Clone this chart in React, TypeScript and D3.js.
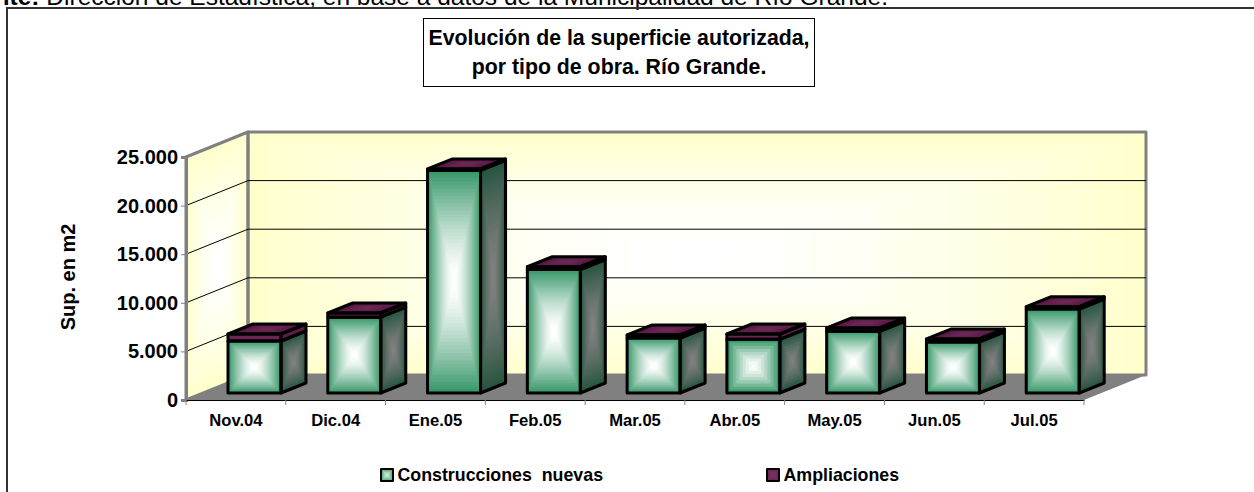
import { useRef, useEffect } from "react";
import * as d3 from "d3";

// values
const categories = ["Nov.04", "Dic.04", "Ene.05", "Feb.05", "Mar.05", "Abr.05", "May.05", "Jun.05", "Jul.05"];
const construcciones = [5350, 7800, 22900, 12700, 5650, 5520, 6350, 5250, 8640];
const ampliaciones = [720, 430, 150, 290, 320, 550, 340, 310, 240];
const yTicks = [0, 5000, 10000, 15000, 20000, 25000];
const legendLabels = ["Construcciones  nuevas", "Ampliaciones"];
const titleLines = ["Evolución de la superficie autorizada,", "por tipo de obra. Río Grande."];
const sourceBold = "Fuente:";
const sourceText = " Dirección de Estadística, en base a datos de la Municipalidad de Río Grande.";

const FONT = "'Liberation Sans', Arial, sans-serif";
const width = 1254;
const height = 492;

// 3d box: front plane of the plot and how far the back wall is shifted
const plot = { left: 186, right: 1084, bottom: 400, top: 157 };
const wallDx = 62;
const wallDy = -25;
// bars stand a bit inside the floor
const barShiftY = -7;
const barLeft = 42;
const barWidth = 53;
const barDx = 25;
const barDy = -10;

type Pt = [number, number];

// fake of Excel's "from center" gradient: quads shrinking to the centre,
// eased so the slope dies out in the middle and no X pattern shows
function nestedQuad(g: any, pts: Pt[], edge: string, center: string, steps: number) {
  const cx = d3.mean(pts, (p) => p[0]) as number;
  const cy = d3.mean(pts, (p) => p[1]) as number;
  const color = d3.interpolateRgb(edge, center);
  const line = d3.line();
  d3.range(steps).forEach((i) => {
    const u = i / (steps - 1);
    const t = u * 0.95;
    const q = pts.map((p) => [p[0] + (cx - p[0]) * t, p[1] + (cy - p[1]) * t] as Pt);
    g.append("path")
      .attr("d", line(q) + "Z")
      .attr("fill", color(1 - Math.pow(1 - u, 1.4)));
  });
}

function outline(g: any, pts: Pt[], stroke: string, w: number) {
  g.append("path")
    .attr("d", d3.line()(pts) + "Z")
    .attr("fill", "none")
    .attr("stroke", stroke)
    .attr("stroke-width", w)
    .attr("stroke-linejoin", "round");
}

const App = () => {
  const svgRef = useRef<SVGSVGElement>(null);

  useEffect(() => {
    const svg = d3.select(svgRef.current);
    svg.selectAll("*").remove();

    const x = d3.scaleBand().domain(categories).range([plot.left, plot.right]).padding(0);
    const y = d3.scaleLinear().domain([0, 25000]).range([plot.bottom, plot.top]);
    const fmt = d3.formatLocale({ decimal: ",", thousands: ".", grouping: [3], currency: ["", ""] }).format(",");

    // source line cut by the top of the page
    const src = svg.append("text")
      .attr("x", 888).attr("y", 5)
      .attr("text-anchor", "end")
      .style("font", `24.5px ${FONT}`)
      .style("white-space", "pre");
    src.append("tspan").style("font-weight", "bold").text(sourceBold);
    src.append("tspan").text(sourceText);

    // outer frame, open at the bottom and right
    svg.append("path")
      .attr("d", `M7,${height}V8H${width}`)
      .attr("fill", "none")
      .attr("stroke", "#333")
      .attr("stroke-width", 2);

    // walls
    const walls = svg.append("g");
    const [x0, x1] = [plot.left, plot.right];
    const [yb, yt] = [plot.bottom, plot.top];
    const back: Pt[] = [[x0 + wallDx, yt + wallDy], [x1 + wallDx, yt + wallDy], [x1 + wallDx, yb + wallDy], [x0 + wallDx, yb + wallDy]];
    const side: Pt[] = [[x0, yt], [x0 + wallDx, yt + wallDy], [x0 + wallDx, yb + wallDy], [x0, yb]];
    nestedQuad(walls, back, "#FFFFCC", "#FFFFFF", 40);
    nestedQuad(walls, side, "#FFFFCC", "#FFFFFF", 20);

    // floor
    walls.append("path")
      .attr("d", d3.line()([[x0, yb], [x0 + wallDx, yb + wallDy], [x1 + wallDx, yb + wallDy], [x1, yb]]) + "Z")
      .attr("fill", "#808080");

    // gridlines
    const grid = svg.append("g").attr("fill", "none").attr("stroke", "#000").attr("stroke-width", 1);
    yTicks.filter((v) => v > 0 && v < 25000).forEach((v) => {
      grid.append("path").attr(
        "d",
        d3.line()([[x0, y(v)], [x0 + wallDx, y(v) + wallDy], [x1 + wallDx, y(v) + wallDy]]) as string,
      );
    });

    outline(walls, back, "#808080", 3);
    outline(walls, side, "#808080", 3);
    walls.raise();
    grid.raise();

    // bars
    const bars = svg.append("g");
    categories.forEach((c, i) => {
      const left = (x(c) as number) + barLeft;
      const right = left + barWidth;
      const base = y(0) + barShiftY;
      const h = y(0) - y(construcciones[i]);
      const hTotal = y(0) - y(construcciones[i] + ampliaciones[i]);
      const yGreen = base - h;
      const yTop = base - hTotal;
      // Abr.05 shows visible bands in the picture
      const steps = c === "Abr.05" ? 9 : 30;

      const front: Pt[] = [[left, yGreen], [right, yGreen], [right, base], [left, base]];
      const sideFace: Pt[] = [[right, yGreen], [right + barDx, yGreen + barDy], [right + barDx, base + barDy], [right, base]];
      nestedQuad(bars, front, "#38986A", "#FFFFFF", steps);
      nestedQuad(bars, sideFace, "#285540", "#808080", steps);

      const ampFront: Pt[] = [[left, yTop], [right, yTop], [right, yGreen], [left, yGreen]];
      const ampSide: Pt[] = [[right, yTop], [right + barDx, yTop + barDy], [right + barDx, yGreen + barDy], [right, yGreen]];
      const ampTop: Pt[] = [[left, yTop], [left + barDx, yTop + barDy], [right + barDx, yTop + barDy], [right, yTop]];
      bars.append("path").attr("d", d3.line()(ampFront) + "Z").attr("fill", "#6B2455");
      bars.append("path").attr("d", d3.line()(ampSide) + "Z").attr("fill", "#5A1D48");
      nestedQuad(bars, ampTop, "#54163F", "#6F2A58", 6);

      [front, sideFace, ampFront, ampSide, ampTop].forEach((q) => outline(bars, q, "#000", 3));
    });

    // axes
    const yAxis = svg.append("g")
      .attr("transform", `translate(${plot.left},0)`)
      .call(d3.axisLeft(y).tickValues(yTicks).tickSize(5).tickFormat((d) => fmt(d as number)));
    yAxis.select(".domain").attr("stroke", "#808080").attr("stroke-width", 3);
    yAxis.selectAll(".tick line").attr("stroke", "#808080");
    yAxis.selectAll("text")
      .attr("x", -8)
      .style("font", `bold 20px ${FONT}`)
      .attr("fill", "#000");

    const xAxis = svg.append("g")
      .attr("transform", `translate(0,${plot.bottom})`)
      .call(d3.axisBottom(x).tickSize(0).tickPadding(14));
    xAxis.select(".domain").attr("stroke", "#000").attr("stroke-width", 1);
    xAxis.selectAll("text")
      .style("font", `bold 16.6px ${FONT}`)
      .attr("fill", "#000");
    // ticks sit between categories
    const between = categories.map((c) => x(c) as number).concat(plot.right);
    xAxis.selectAll(".sep").data(between).enter().append("line")
      .attr("class", "sep")
      .attr("x1", (d) => d).attr("x2", (d) => d)
      .attr("y1", 0).attr("y2", 5)
      .attr("stroke", "#808080");

    // axis title
    svg.append("text")
      .attr("transform", "translate(75,277) rotate(-90)")
      .attr("text-anchor", "middle")
      .style("font", `bold 20px ${FONT}`)
      .text("Sup. en m2");

    // title box
    svg.append("rect")
      .attr("x", 423.5).attr("y", 18.5).attr("width", 391).attr("height", 68)
      .attr("fill", "#fff").attr("stroke", "#000");
    svg.selectAll(".title").data(titleLines).enter().append("text")
      .attr("class", "title")
      .attr("x", 619)
      .attr("y", (_, i) => 45 + i * 29)
      .attr("text-anchor", "middle")
      .style("font", `bold 21.3px ${FONT}`)
      .text((d) => d);

    // legend
    const legendX = [381, 767];
    const legendFill = [["#52A87C", "#D5EFE0"], ["#6B2455", "#7A3464"]];
    legendLabels.forEach((t, i) => {
      const l = svg.append("g");
      const pts: Pt[] = [[legendX[i], 469], [legendX[i] + 12, 469], [legendX[i] + 12, 481], [legendX[i], 481]];
      nestedQuad(l, pts, legendFill[i][0], legendFill[i][1], 5);
      outline(l, pts, "#000", 2);
      l.append("text")
        .attr("x", legendX[i] + 16.5).attr("y", 481)
        .style("font", `bold 17.8px ${FONT}`)
        .style("white-space", "pre")
        .text(t);
    });
  }, []);

  return (
    <svg
      ref={svgRef}
      width={width}
      height={height}
      style={{ position: "absolute", left: 0, top: 0, background: "#fff" }}
    ></svg>
  );
};

export default App;
